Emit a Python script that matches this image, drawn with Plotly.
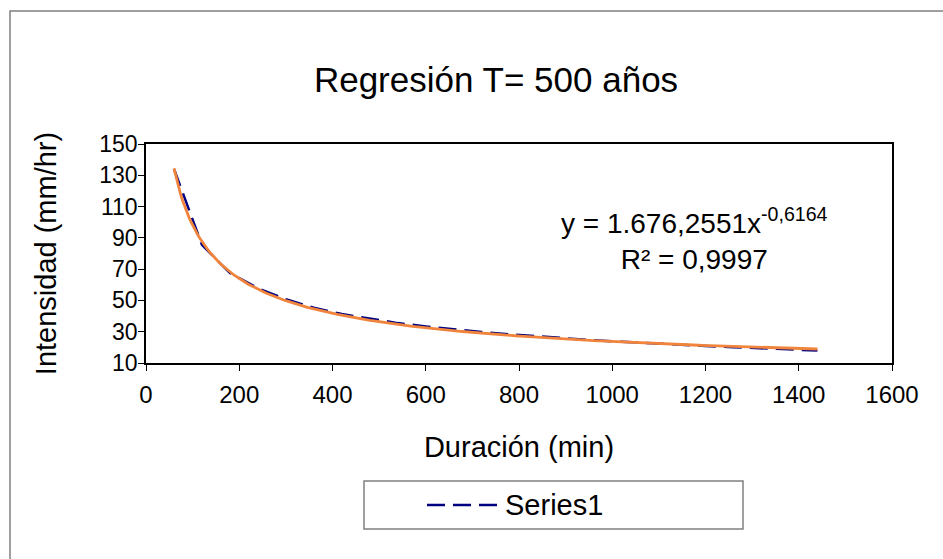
import plotly.graph_objects as go
import numpy as np

# Data
duracion = [60, 120, 180, 240, 300, 360, 420, 480, 540, 600, 660, 720,
            780, 840, 900, 960, 1020, 1080, 1140, 1200, 1260, 1320, 1380, 1440]
intensidad = [134.0, 85.5, 67.5, 57.8, 50.8, 45.3, 41.3, 38.2, 35.5, 33.4, 31.4, 29.8,
              28.3, 27.0, 25.8, 24.6, 23.6, 22.6, 21.7, 20.9, 20.1, 19.4, 18.7, 18.0]

# Power trendline coefficients (as shown on chart)
coef_a = 1676.2551
coef_b = -0.6164
eq_text = "y = 1.676,2551x<sup>-0,6164</sup><br>R² = 0,9997"
series_name = "Series1"

x_ticks = [0, 200, 400, 600, 800, 1000, 1200, 1400, 1600]
y_ticks = [10, 30, 50, 70, 90, 110, 130, 150]

xt = np.linspace(min(duracion), max(duracion), 300)
yt = coef_a * xt ** coef_b

FONT = "Liberation Sans, Arial, sans-serif"
NAVY = "#000080"
DASH = "18px,8px"

fig = go.Figure()
fig.add_trace(go.Scatter(x=duracion, y=intensidad, mode="lines", name=series_name,
                         showlegend=False,
                         line=dict(color=NAVY, width=2.5, dash=DASH)))
fig.add_trace(go.Scatter(x=xt, y=yt, mode="lines", name="Trend", showlegend=False,
                         line=dict(color="#F0843C", width=2.8)))

L, R, T, B = 146, 51, 144, 196
W, H = 943, 559
pw, ph = W - L - R, H - T - B

def px(x):
    return (x - L) / pw

def py(y):
    return (H - B - y) / ph

fig.update_layout(
    width=W, height=H,
    margin=dict(l=L, r=R, t=T, b=B),
    paper_bgcolor="white", plot_bgcolor="white",
    font=dict(family=FONT, size=22, color="black"),
    title=dict(text="Regresión T= 500 años", x=px(496), xref="paper", xanchor="center",
               y=1 - 80 / H, yanchor="middle", font=dict(size=35, family=FONT)),
    xaxis=dict(range=[0, 1600], tickvals=x_ticks, ticks="outside", ticklen=6,
               tickcolor="black", showline=True, linecolor="black", linewidth=1.5,
               mirror=True, showgrid=False, zeroline=False, ticklabelstandoff=3,
               title=dict(text="Duración (min)", font=dict(size=29), standoff=30),
               tickfont=dict(size=24)),
    yaxis=dict(range=[10, 150], tickvals=y_ticks, ticks="outside", ticklen=6,
               tickcolor="black", showline=True, linecolor="black", linewidth=1.5,
               mirror=True, showgrid=False, zeroline=False, ticklabelstandoff=-4,
               title=dict(text="Intensidad (mm/hr)", font=dict(size=29), standoff=34),
               tickfont=dict(size=23)),
    showlegend=False,
    annotations=[
        dict(text=eq_text, x=px(694), y=py(239), xref="paper", yref="paper",
             showarrow=False, xanchor="center", yanchor="middle",
             font=dict(size=28), align="center"),
        dict(text=series_name, x=px(503), y=py(505), xref="paper", yref="paper",
             showarrow=False, xanchor="left", yanchor="middle", font=dict(size=29)),
    ],
    shapes=[
        dict(type="rect", xref="paper", yref="paper", x0=px(10), y0=py(580), x1=px(960), y1=py(11),
             line=dict(color="#808080", width=1.5), layer="below"),
        dict(type="rect", xref="paper", yref="paper", x0=px(364), y0=py(529), x1=px(743), y1=py(481),
             line=dict(color="#808080", width=1.5), layer="below"),
        dict(type="line", xref="paper", yref="paper", x0=px(427), y0=py(505), x1=px(497), y1=py(505),
             line=dict(color=NAVY, width=2.5, dash=DASH)),
    ],
)

fig.write_html("out.html")
